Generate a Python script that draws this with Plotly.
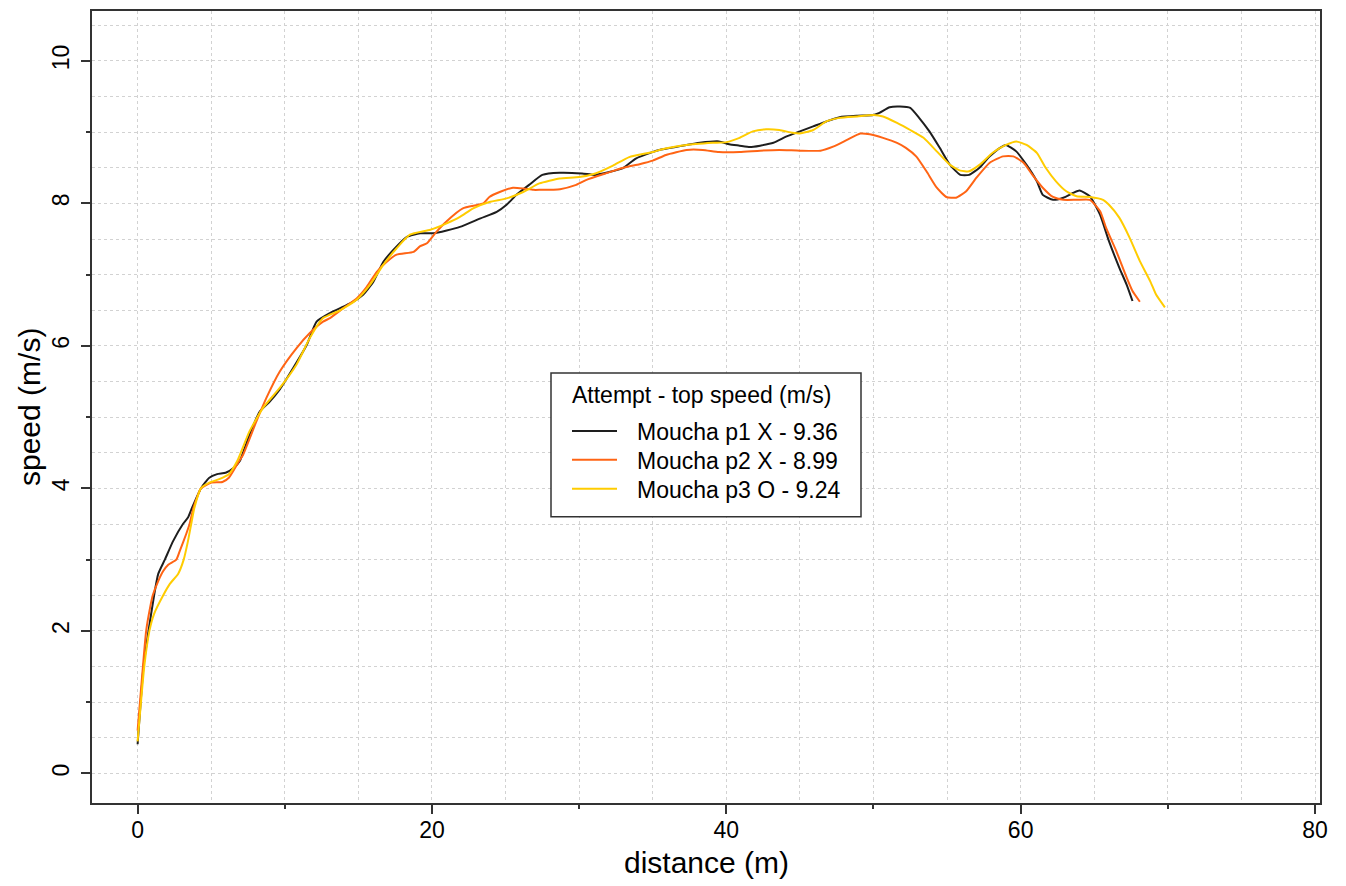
import plotly.graph_objects as go

# ---- data ----
p1_x = [0, 0.4, 0.74, 1.12, 1.4, 1.85, 2.41, 3.08, 3.42, 3.7, 4.3, 4.87, 5.4, 5.98, 6.54, 6.93, 7.61, 8.3, 8.98, 9.66,
        10.57, 11.48, 12.16, 13.07, 13.98, 14.66, 15.34, 16.02, 16.7, 17.39, 18.3, 19.2, 20.1, 21.0, 21.9, 23.3,
        24.4, 25.07, 25.74, 26.6, 27.5, 28.67, 30.2, 31.1, 32.05, 32.95, 33.85, 34.98, 35.45, 36.8, 38.2, 39.5,
        40.2, 40.9, 41.6, 42.3, 43.2, 44.1, 45.0, 45.9, 46.8, 47.7, 48.9, 50.0, 50.4, 51.1, 51.8, 52.5, 53.1,
        53.8, 54.5, 55.2, 55.9, 56.5, 57.2, 57.9, 58.6, 59.0, 59.7, 60.4, 61.1, 61.5, 62.2, 62.9, 63.6, 64.0,
        64.7, 65.4, 66.0, 66.7, 67.2, 67.6]
p1_y = [0.41, 1.5, 2.0, 2.5, 2.8, 3.0, 3.26, 3.5, 3.59, 3.73, 4.0, 4.15, 4.2, 4.22, 4.29, 4.38, 4.76, 5.08, 5.22, 5.39,
        5.69, 6.01, 6.34, 6.46, 6.55, 6.62, 6.72, 6.9, 7.18, 7.35, 7.53, 7.58, 7.58, 7.62, 7.67, 7.79,
        7.88, 7.98, 8.12, 8.26, 8.4, 8.43, 8.42, 8.4, 8.44, 8.49, 8.63, 8.72, 8.75, 8.8, 8.85, 8.87,
        8.83, 8.81, 8.79, 8.81, 8.85, 8.94, 9.01, 9.08, 9.15, 9.21, 9.23, 9.24, 9.27, 9.35, 9.36, 9.34, 9.2,
        9.01, 8.78, 8.54, 8.4, 8.4, 8.5, 8.66, 8.78, 8.82, 8.73, 8.54, 8.31, 8.12, 8.05, 8.08, 8.15, 8.18,
        8.1, 7.84, 7.47, 7.1, 6.86, 6.63]

p2_x = [0, 0.36, 0.58, 0.85, 1.03, 1.4, 1.74, 2.08, 2.63, 2.86, 3.3, 3.53, 3.8, 4.08, 4.3, 4.98, 5.76, 6.2, 6.88,
        7.16, 8.07, 8.75, 9.66, 10.8, 11.7, 12.6, 13.07, 13.98, 14.9, 15.57, 16.25, 16.93, 17.6, 18.75, 19.2,
        19.66, 20.3, 21.0, 22.1, 23.5, 23.9, 24.6, 25.5, 26.2, 26.9, 27.3, 28.7, 29.8, 30.5, 31.8, 33.0, 34.1,
        35.0, 35.9, 37.3, 38.4, 39.5, 40.9, 42.3, 43.6, 45.0, 46.4, 47.3, 48.2, 49.1, 49.75, 50.65, 51.6, 52.2,
        52.9, 53.6, 54.3, 54.95, 55.6, 56.3, 57.0, 57.9, 58.8, 59.5, 60.2, 60.8, 61.5, 62.2, 62.9, 63.8, 64.7,
        65.4, 65.8, 66.5, 67.2, 67.6, 68.1]
p2_y = [0.6, 1.5, 2.0, 2.33, 2.5, 2.7, 2.84, 2.93, 3.0, 3.12, 3.36, 3.5, 3.73, 3.9, 4.0, 4.08, 4.09, 4.15, 4.38,
        4.47, 4.94, 5.27, 5.64, 5.97, 6.18, 6.34, 6.39, 6.53, 6.67, 6.83, 7.04, 7.18, 7.28, 7.32, 7.4,
        7.44, 7.6, 7.75, 7.93, 8.0, 8.09, 8.16, 8.22, 8.21, 8.19, 8.19, 8.2, 8.26, 8.33, 8.42, 8.5, 8.55,
        8.6, 8.68, 8.75, 8.75, 8.72, 8.72, 8.74, 8.75, 8.74, 8.74, 8.8, 8.89, 8.98, 8.97, 8.92, 8.85, 8.78,
        8.66, 8.45, 8.22, 8.09, 8.08, 8.17, 8.36, 8.57, 8.66, 8.66, 8.57, 8.4, 8.22, 8.09, 8.05, 8.05, 8.05,
        7.89, 7.66, 7.33, 6.96, 6.77, 6.62]

p3_x = [0, 0.45, 0.8, 1.12, 1.74, 2.19, 2.75, 3.13, 3.42, 3.64, 3.86, 4.3, 4.87, 5.54, 6.2, 6.76, 7.6, 8.52, 9.66,
        10.8, 11.7, 12.6, 13.75, 14.9, 15.8, 16.7, 17.6, 18.5, 19.9, 21.0, 21.9, 22.8, 23.9, 25.07, 26.2, 27.3,
        28.67, 30.0, 31.1, 32.3, 33.4, 35.0, 35.45, 37.3, 39.1, 40.0, 40.9, 41.8, 42.7, 43.6, 44.5, 45.0, 45.9,
        46.8, 47.7, 48.9, 50.0, 50.65, 51.6, 52.5, 53.4, 54.3, 55.2, 55.9, 56.5, 57.2, 58.1, 59.0, 59.7, 60.4,
        61.1, 61.7, 62.4, 63.1, 63.8, 64.7, 65.6, 66.0, 66.7, 67.4, 68.1, 68.8, 69.2, 69.8]
p3_y = [0.45, 1.5, 2.0, 2.24, 2.5, 2.66, 2.8, 3.0, 3.26, 3.5, 3.73, 4.0, 4.08, 4.13, 4.2, 4.38, 4.8, 5.13, 5.41,
        5.74, 6.11, 6.39, 6.5, 6.65, 6.86, 7.14, 7.37, 7.56, 7.63, 7.72, 7.81, 7.93, 8.02, 8.07, 8.16, 8.28,
        8.35, 8.37, 8.42, 8.53, 8.65, 8.72, 8.75, 8.82, 8.85, 8.86, 8.92, 9.01, 9.04, 9.03, 8.99, 8.98, 9.03,
        9.15, 9.2, 9.22, 9.24, 9.22, 9.13, 9.03, 8.92, 8.73, 8.54, 8.46, 8.45, 8.54, 8.71, 8.82, 8.87, 8.82,
        8.71, 8.5, 8.31, 8.17, 8.1, 8.09, 8.05, 7.98, 7.8, 7.52, 7.19, 6.91, 6.72, 6.54]

series_names = ["Moucha p1 X - 9.36", "Moucha p2 X - 8.99", "Moucha p3 O - 9.24"]
series_colors = ["#1e1e1e", "#ff6414", "#ffcc00"]
legend_title = "Attempt - top speed (m/s)"

x_range = [-3.1, 80.34]
y_range = [-0.415, 10.70]

FONT = "Liberation Sans, Arial, sans-serif"
AXC = "#333333"

# plot-area geometry (pixels) used to place the hand-built legend box
W, H = 1346, 886
ML, MR, MT, MB = 92, 26, 9, 83
PW, PH = W - ML - MR, H - MT - MB


def px(xp):
    return (xp - ML) / PW


def py(yp):
    return (H - MB - yp) / PH


fig = go.Figure()
for xs, ys, name, col in zip([p1_x, p2_x, p3_x], [p1_y, p2_y, p3_y], series_names, series_colors):
    fig.add_trace(go.Scatter(x=xs, y=ys, mode="lines", name=name, showlegend=False,
                             line=dict(color=col, width=2, shape="spline", smoothing=0.5)))

# dummy trace so the tick-carrying overlay axes are drawn
fig.add_trace(go.Scatter(x=[None], y=[None], xaxis="x2", yaxis="y2", showlegend=False, hoverinfo="skip"))

# legend (box, title, samples, labels)
shapes = [dict(type="rect", xref="paper", yref="paper", x0=px(551), x1=px(861), y0=py(516), y1=py(372),
               line=dict(color=AXC, width=1.5), fillcolor="white", layer="above")]
annotations = [dict(text=legend_title, xref="paper", yref="paper", x=px(570), y=py(394), xanchor="left",
                    yanchor="middle", showarrow=False, font=dict(size=23, family=FONT, color="black"))]
row_y = [430, 459, 488]
for name, col, ry in zip(series_names, series_colors, row_y):
    shapes.append(dict(type="line", xref="paper", yref="paper", x0=px(572), x1=px(617), y0=py(ry), y1=py(ry),
                       line=dict(color=col, width=2), layer="above"))
    annotations.append(dict(text=name, xref="paper", yref="paper", x=px(635), y=py(ry + 1), xanchor="left",
                            yanchor="middle", showarrow=False, font=dict(size=23, family=FONT, color="black")))

# axis titles
annotations.append(dict(text="distance (m)", xref="paper", yref="paper", x=0.5, y=py(863), xanchor="center",
                        yanchor="middle", showarrow=False, font=dict(size=30, family=FONT, color="black")))
annotations.append(dict(text="speed (m/s)", xref="paper", yref="paper", x=px(29), y=0.5, xanchor="center",
                        yanchor="middle", textangle=-90, showarrow=False,
                        font=dict(size=30, family=FONT, color="black")))

fig.update_layout(
    width=W, height=H,
    margin=dict(l=ML, r=MR, t=MT, b=MB),
    paper_bgcolor="white", plot_bgcolor="white",
    font=dict(family=FONT, color="black"),
    showlegend=False,
    shapes=shapes,
    annotations=annotations,
    xaxis=dict(range=x_range, dtick=5, tick0=0, showgrid=True, gridcolor="#d2d2d2", griddash="dot", gridwidth=1,
               zeroline=False, showticklabels=False, ticks="", showline=True, linecolor=AXC, linewidth=1.5,
               mirror=True),
    yaxis=dict(range=y_range, dtick=0.5, tick0=0, showgrid=True, gridcolor="#d2d2d2", griddash="dot", gridwidth=1,
               zeroline=False, showticklabels=False, ticks="", showline=True, linecolor=AXC, linewidth=1.5,
               mirror=True),
    xaxis2=dict(range=x_range, overlaying="x", side="bottom", anchor="y", dtick=20, tick0=0, showgrid=False,
                zeroline=False, ticks="outside", ticklen=10, tickwidth=1.5, tickcolor=AXC,
                tickfont=dict(size=23, family=FONT, color="black"), ticklabelstandoff=-4,
                minor=dict(dtick=10, ticks="outside", ticklen=5, tickwidth=1.5, tickcolor=AXC, showgrid=False)),
    yaxis2=dict(range=y_range, overlaying="y", side="left", anchor="x", dtick=2, tick0=0, showgrid=False,
                zeroline=False, ticks="outside", ticklen=10, tickwidth=1.5, tickcolor=AXC, tickangle=-90,
                tickfont=dict(size=23, family=FONT, color="black"), ticklabelstandoff=3,
                minor=dict(dtick=1, ticks="outside", ticklen=5, tickwidth=1.5, tickcolor=AXC, showgrid=False)),
)

fig.write_html("out.html")
